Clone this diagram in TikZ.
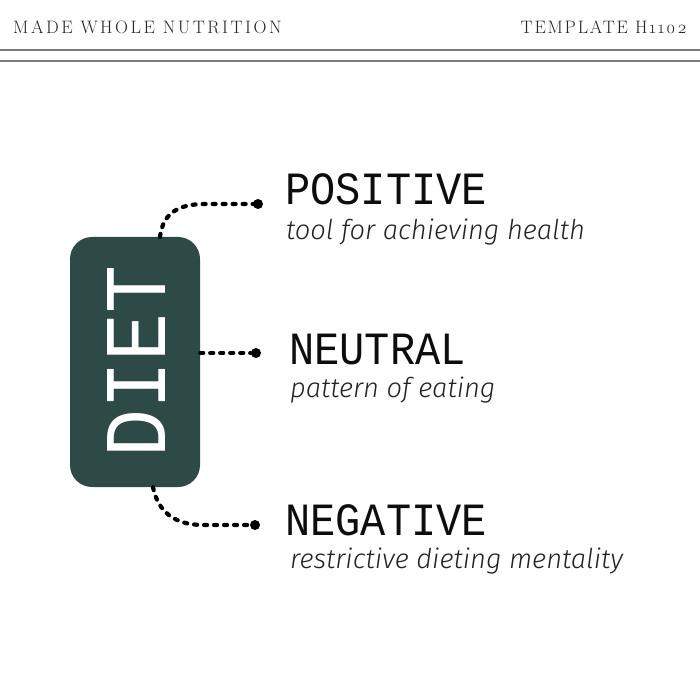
\documentclass[tikz,border=0pt]{standalone}
\usepackage{fontspec}
\setmainfont{Latin Modern Roman}
\newfontfamily\headf{Latin Modern Roman}[LetterSpace=14,Numbers=OldStyle]
\newfontfamily\headtf{Latin Modern Roman}[LetterSpace=10,Numbers=OldStyle]
\newfontfamily\monof{Liberation Mono}
\newfontfamily\subf{Fira Sans Light Italic}
\definecolor{dietgreen}{HTML}{2D4A46}
\definecolor{rulegray}{HTML}{7A7A7A}
\definecolor{subgray}{HTML}{222222}
\tikzset{
  headtext/.style={inner sep=0, anchor=base west, font=\headf\fontsize{18}{18}\selectfont, text=black!85},
  rulerline/.style={draw=rulegray, line width=1.3pt},
  dietbox/.style={fill=dietgreen, rounded corners=22pt, minimum width=130pt, minimum height=250pt, inner sep=0},
  diettext/.style={rotate=90, text=white, inner sep=0, font=\monof\fontsize{80}{80}\selectfont},
  titletext/.style={inner sep=0, anchor=base west, font=\monof\fontsize{42}{42}\selectfont, text=black!95},
  subtext/.style={inner sep=0, anchor=base west, font=\subf\fontsize{27.3}{28}\selectfont, text=subgray},
  enddot/.style={circle, fill=black, inner sep=0, minimum size=10pt},
  dotline/.style={line width=4.2pt, line cap=round, dash pattern=on 3pt off 7pt, black},
}
\begin{document}
\begin{tikzpicture}[x=1pt, y=-1pt]
\useasboundingbox (0,0) rectangle (700,700);
\fill[white] (0,0) rectangle (700,700);
% header
\node[headtext] (brand) at (13,34) {MADE WHOLE NUTRITION};
\node[headtext, font=\headtf\fontsize{18}{18}\selectfont, anchor=base east] (tmpl) at (687,34) {TEMPLATE H1102};
\draw[rulerline] (0,50) -- (700,50);
\draw[rulerline] (0,61) -- (700,61);
% diet box
\node[dietbox] (diet) at (135,362) {};
\node[diettext] (dietlbl) at (137,361) {\scalebox{1}[1.1]{DIET}};
% end dots
\node[enddot] (pdot) at (258,204) {};
\node[enddot] (udot) at (256,353) {};
\node[enddot] (ndot) at (255,525) {};
% connectors
\draw[dotline] ([xshift=25pt]diet.north) .. controls (163,212) and (180,204) .. (205,204) -- (pdot.center);
\draw[dotline] ([yshift=9pt]diet.east) -- (udot.center);
\draw[dotline] ([xshift=18pt]diet.south) .. controls (158,512) and (175,525) .. (203,525) -- (ndot.center);
% labels
\node[titletext] (pos) at (285,205) {\scalebox{1}[1.1]{POSITIVE}};
\node[subtext] (possub) at (286,240) {tool for achieving health};
\node[titletext] (neu) at (289,364) {\scalebox{1}[1.1]{NEUTRAL}};
\node[subtext] (neusub) at (290,397) {pattern of eating};
\node[titletext] (neg) at (285,535) {\scalebox{1}[1.1]{NEGATIVE}};
\node[subtext] (negsub) at (290,568) {restrictive dieting mentality};
\end{tikzpicture}
\end{document}
